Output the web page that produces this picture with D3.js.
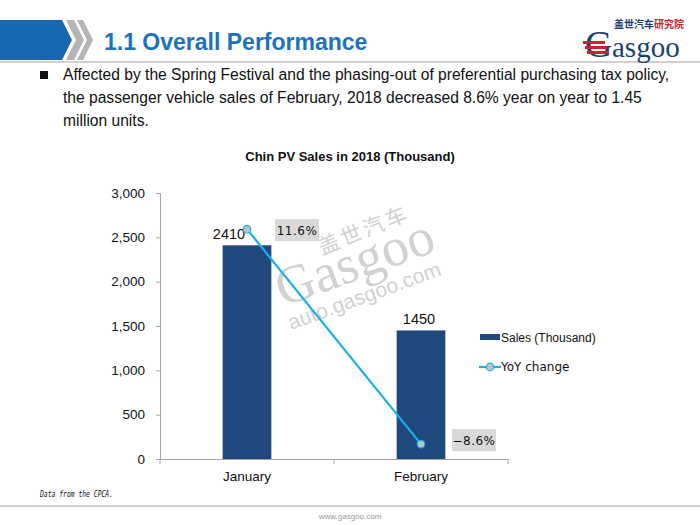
<!DOCTYPE html>
<html><head><meta charset="utf-8">
<script src="https://cdn.jsdelivr.net/npm/d3@7/dist/d3.min.js"></script>
<style>body{margin:0;background:#fff}svg{display:block}</style>
</head><body>
<svg id="c" width="700" height="525"></svg>
<script>
const categories = ["January", "February"];
const sales = [2410, 1450];
const yoy = [11.6, -8.6];
const yoyLabels = ["11.6%", "\u22128.6%"];
const yTicks = [0, 500, 1000, 1500, 2000, 2500, 3000];
const bodyLines = [
  "Affected by the Spring Festival and the phasing-out of preferential purchasing tax policy,",
  "the passenger vehicle sales of February, 2018 decreased 8.6% year on year to 1.45",
  "million  units."
];

const svg = d3.select("#c");
const F = "'Liberation Sans', Arial, sans-serif";

// Header
svg.append("path").attr("d","M0,20 L62,20 L72,40 L62,60 L0,60 Z").attr("fill","#1767b3");
svg.append("path").attr("d","M66,20 L74,20 L84,40 L74,60 L66,60 L76,40 Z").attr("fill","#b4b4b4");
svg.append("path").attr("d","M77,20 L83,20 L93,40 L83,60 L77,60 L87,40 Z").attr("fill","#b4b4b4");
svg.append("rect").attr("x",0).attr("y",61).attr("width",700).attr("height",2).attr("fill","#cfcfcf");
svg.append("text").attr("x",104).attr("y",50).attr("font-family",F).attr("font-weight","bold")
  .attr("font-size",23).attr("fill","#1a72c2").text("1.1 Overall Performance");

// Logo
const lg = svg.append("g");
lg.append("text").attr("x",614).attr("y",28).attr("font-family","'Noto Sans CJK SC'").attr("font-weight","bold")
  .attr("font-size",10).attr("fill","#1b3f73").text("盖世汽车");
lg.append("text").attr("x",654).attr("y",28).attr("font-family","'Noto Sans CJK SC'").attr("font-weight","bold")
  .attr("font-size",10).attr("fill","#c8242b").text("研究院");
lg.append("text").attr("x",585).attr("y",57).attr("font-family","'Liberation Serif', serif")
  .attr("font-size",38).attr("fill","#1b3f73").text("G");
[0,1,2].forEach(i=>lg.append("rect").attr("x",583+i*2).attr("y",41+i*5).attr("width",22).attr("height",3).attr("fill","#c8242b"));
lg.append("text").attr("x",612).attr("y",57).attr("font-family","'Liberation Serif', serif")
  .attr("font-size",29).attr("fill","#1b3f73").text("asgoo");

// Bullet text
svg.append("rect").attr("x",40).attr("y",71).attr("width",8).attr("height",8).attr("fill","#111");
bodyLines.forEach((t,i)=>svg.append("text").attr("x",63).attr("y",80+i*23).attr("font-family",F)
  .attr("font-size",15.6).attr("fill","#111").text(t));

// Chart
const x0 = 160, x1 = 508, yb = 459, yt = 193;
const x = d3.scaleBand().domain(categories).range([x0,x1]).paddingInner(0.72).paddingOuter(0.36);
const y = d3.scaleLinear().domain([0,3000]).range([yb,yt]);
const y2 = d3.scaleLinear().domain([-10,15]).range([yb,yt]);

svg.append("text").attr("x",350).attr("y",161).attr("text-anchor","middle").attr("font-family",F)
  .attr("font-weight","bold").attr("font-size",13).attr("fill","#111").text("Chin PV Sales in 2018 (Thousand)");

// Watermark
const wm = svg.append("g").attr("fill","#c9c9c9").attr("opacity",0.85);
wm.append("text").attr("transform","translate(322,255) rotate(-22)").attr("font-family","'Noto Sans CJK SC'")
  .attr("font-size",21).attr("letter-spacing",3).text("盖世汽车");
wm.append("text").attr("transform","translate(283,307) rotate(-20)").attr("font-family","'Liberation Serif', serif")
  .attr("font-size",54).text("Gasgoo");
wm.append("text").attr("transform","translate(291,330) rotate(-20)").attr("font-family",F)
  .attr("font-size",21).text("auto.gasgoo.com");

// Y axis
const ya = svg.append("g").attr("transform",`translate(${x0},0)`)
  .call(d3.axisLeft(y).tickValues(yTicks).tickSize(4).tickPadding(11).tickFormat(d3.format(",")));
ya.select(".domain").attr("stroke","#a6a6a6");
ya.selectAll(".tick line").attr("stroke","#a6a6a6");
ya.selectAll("text").attr("font-family",F).attr("font-size",13.5).attr("fill","#111");

// Bars
svg.selectAll(".bar").data(categories).enter().append("rect")
  .attr("x",d=>x(d)).attr("width",x.bandwidth())
  .attr("y",(d,i)=>y(sales[i])).attr("height",(d,i)=>yb-y(sales[i])).attr("fill","#1f497d");

// X axis
const xa = svg.append("g").attr("transform",`translate(0,${yb})`)
  .call(d3.axisBottom(x).tickSize(0).tickPadding(12));
xa.select(".domain").attr("stroke","#a6a6a6");
xa.selectAll("text").attr("font-family",F).attr("font-size",13.5).attr("fill","#111");
[x0,(x0+x1)/2,x1].forEach(t=>svg.append("line").attr("x1",t).attr("x2",t).attr("y1",yb).attr("y2",yb+5).attr("stroke","#a6a6a6"));

// Bar labels
const barLabOff = [-18, -2];
categories.forEach((c,i)=>svg.append("text").attr("x",x(c)+x.bandwidth()/2+barLabOff[i]).attr("y",y(sales[i])-6)
  .attr("text-anchor","middle").attr("font-family",F).attr("font-size",14.5).attr("fill","#111").text(sales[i]));

// Line
const cx = c => x(c)+x.bandwidth()/2;
svg.append("path").datum(categories).attr("fill","none").attr("stroke","#16b0ea").attr("stroke-width",2.2)
  .attr("d",d3.line().x(d=>cx(d)).y((d,i)=>y2(yoy[i])));
categories.forEach((c,i)=>svg.append("circle").attr("cx",cx(c)).attr("cy",y2(yoy[i])).attr("r",3.8)
  .attr("fill","#c0c0c0").attr("stroke","#16b0ea").attr("stroke-width",1.2));

// YoY labels with gray boxes
const boxOff = [[28,-10],[31,-15]];
categories.forEach((c,i)=>{
  const bx = cx(c)+boxOff[i][0], by = y2(yoy[i])+boxOff[i][1];
  svg.append("rect").attr("x",bx).attr("y",by).attr("width",44).attr("height",22).attr("fill","#d9d9d9");
  svg.append("text").attr("x",bx+22).attr("y",by+16).attr("text-anchor","middle")
    .attr("font-family","'DejaVu Sans', sans-serif").attr("font-size",12).attr("letter-spacing",0.5)
    .attr("fill","#111").text(yoyLabels[i]);
});

// Legend
svg.append("rect").attr("x",480).attr("y",334).attr("width",20).attr("height",6).attr("fill","#1f497d");
svg.append("text").attr("x",501).attr("y",342).attr("font-family",F).attr("font-size",12).attr("fill","#111").text("Sales (Thousand)");
svg.append("line").attr("x1",479).attr("x2",501).attr("y1",367).attr("y2",367).attr("stroke","#16b0ea").attr("stroke-width",2.2);
svg.append("circle").attr("cx",490).attr("cy",367).attr("r",3.8).attr("fill","#c0c0c0").attr("stroke","#16b0ea").attr("stroke-width",1.2);
svg.append("text").attr("x",501).attr("y",371).attr("font-family","'DejaVu Sans', sans-serif").attr("font-size",12).attr("fill","#111").text("YoY change");

// Footer
svg.append("text").attr("x",40).attr("y",497).attr("font-family","'DejaVu Sans Mono', monospace").attr("font-style","italic")
  .attr("font-size",9).attr("textLength",73).attr("lengthAdjust","spacingAndGlyphs").attr("fill","#111").text("Data from the CPCA.");
svg.append("rect").attr("x",0).attr("y",505).attr("width",700).attr("height",2).attr("fill","#cfcfcf");
svg.append("text").attr("x",350).attr("y",519).attr("text-anchor","middle").attr("font-family",F)
  .attr("font-size",8).attr("fill","#999").text("www.gasgoo.com");
</script>
</body></html>
